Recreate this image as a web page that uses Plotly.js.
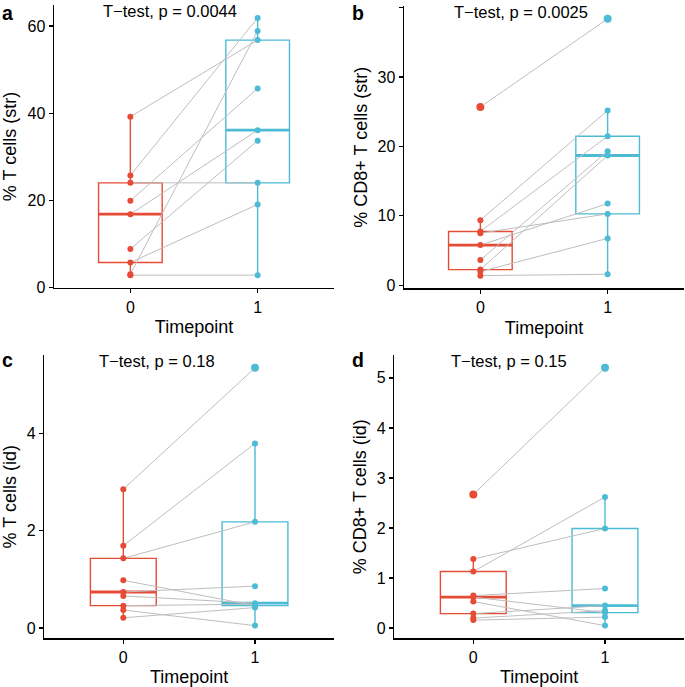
<!DOCTYPE html>
<html><head><meta charset="utf-8">
<script src="https://cdn.plot.ly/plotly-3.0.1.min.js"></script>
<style>html,body{margin:0;padding:0;background:#fff}#chart{width:685px;height:687px}</style>
</head><body><div id="chart"></div>
<script>
// ---------- data ----------
const timepoints = [0, 1];
const timepointLabels = ['0', '1'];
const xTitle = 'Timepoint';
const panelLetters = ['a', 'b', 'c', 'd'];
const yTitles = ['% T cells (str)', '% CD8+ T cells (str)', '% T cells (id)', '% CD8+ T cells (id)'];
const testLabels = ['T\u2212test, p = 0.0044', 'T\u2212test, p = 0.0025', 'T\u2212test, p = 0.18', 'T\u2212test, p = 0.15'];

// paired values per patient (same index = same patient)
const tStrT0 = [39.2, 25.7, 24.0, 19.9, 16.8, 8.8, 5.7, 3.0, 2.8];
const tStrT1 = [56.8, 61.9, 24.0, 45.7, 36.1, 33.7, 19.05, 58.9, 2.8];

const cd8StrT0 = [25.7, 9.37, 7.75, 7.5, 5.78, 3.63, 2.25, 1.96, 1.38];
const cd8StrT1 = [38.4, 25.2, 21.48, 10.28, 11.77, 19.32, 18.7, 6.75, 1.58];

const tIdT0 = [2.85, 1.69, 1.43, 0.98, 0.74, 0.66, 0.46, 0.37, 0.21];
const tIdT1 = [5.34, 3.79, 2.18, 0.46, 0.86, 0.51, 0.49, 0.05, 0.42];

const cd8IdT0 = [2.67, 1.38, 1.13, 0.65, 0.62, 0.53, 0.29, 0.20, 0.16];
const cd8IdT1 = [5.2, 1.99, 2.62, 0.79, 0.31, 0.05, 0.45, 0.35, 0.22];

// ---------- styles ----------
const RED = '#E64B35', BLUE = '#4DBBD5', GREY = '#BEBEBE';
const FONT = 'Liberation Sans, Arial, Helvetica, sans-serif';
const panels = [
  {t0: tStrT0, t1: tStrT1, dx: [54/685, 334/685], dy: [0.5808, 0.9927], dtick: 20, annX: 0.168, letterX: 0, letterY: 1, ystand: 7},
  {t0: cd8StrT0, t1: cd8StrT1, dx: [404/685, 684/685], dy: [0.5801, 0.9913], dtick: 10, annX: 0.1725, letterX: 350/685, letterY: 1, ystand: 5},
  {t0: tIdT0, t1: tIdT1, dx: [44.3/685, 334/685], dy: [0.0706, 0.4833], dtick: 2, annX: 0.183, letterX: 0, letterY: (687 - 347.5) / 687, ystand: 7},
  {t0: cd8IdT0, t1: cd8IdT1, dx: [394.3/685, 684/685], dy: [0.0706, 0.4833], dtick: 1, annX: 0.188, letterX: 350/685, letterY: (687 - 347.5) / 687, ystand: 5}
];

function median(arr) {
  const s = arr.slice().sort((a, b) => a - b);
  const n = s.length;
  return n % 2 ? s[(n - 1) / 2] : (s[n/2 - 1] + s[n/2]) / 2;
}

const data = [];
const layout = {
  width: 685, height: 687,
  margin: {l: 0, r: 0, t: 0, b: 0},
  paper_bgcolor: '#fff', plot_bgcolor: '#fff',
  showlegend: false,
  font: {family: FONT, color: '#000'},
  annotations: []
};

panels.forEach((p, i) => {
  const n = i === 0 ? '' : String(i + 1);
  const xa = 'x' + n, ya = 'y' + n;
  const groups = [p.t0, p.t1];
  const colors = [RED, BLUE];

  // boxes (quartiles + whiskers computed by plotly from the data)
  groups.forEach((vals, g) => {
    data.push({
      type: 'box', x: vals.map(() => timepoints[g]), y: vals,
      xaxis: xa, yaxis: ya, width: 0.5,
      line: {color: colors[g], width: 1.4}, fillcolor: 'rgba(255,255,255,0)',
      boxpoints: 'outliers', pointpos: 0, jitter: 0, whiskerwidth: 0,
      quartilemethod: 'inclusive',
      marker: {color: colors[g], size: 8, line: {width: 0}},
      hoverinfo: 'skip'
    });
  });
  // thick medians
  groups.forEach((vals, g) => {
    const m = median(vals);
    data.push({
      type: 'scatter', mode: 'lines', xaxis: xa, yaxis: ya,
      x: [timepoints[g] - 0.25, timepoints[g] + 0.25], y: [m, m],
      line: {color: colors[g], width: 2.8}, hoverinfo: 'skip'
    });
  });
  // paired lines
  const lx = [], ly = [];
  p.t0.forEach((v, k) => { lx.push(timepoints[0], timepoints[1], null); ly.push(v, p.t1[k], null); });
  data.push({type: 'scatter', mode: 'lines', x: lx, y: ly, xaxis: xa, yaxis: ya,
    line: {color: GREY, width: 1}, hoverinfo: 'skip'});
  // points
  groups.forEach((vals, g) => {
    data.push({type: 'scatter', mode: 'markers', xaxis: xa, yaxis: ya,
      x: vals.map(() => timepoints[g]), y: vals,
      marker: {color: colors[g], size: 6}});
  });

  const all = p.t0.concat(p.t1);
  const lo = Math.min(...all), hi = Math.max(...all), pad = (hi - lo) * 0.05;

  layout['xaxis' + n] = {
    domain: p.dx, anchor: ya, range: [-0.6, 1.6],
    tickvals: timepoints, ticktext: timepointLabels,
    showline: true, linecolor: '#000', linewidth: 1.4,
    ticks: 'outside', ticklen: 4, tickwidth: 1.3, tickcolor: '#000',
    showgrid: false, zeroline: false,
    tickfont: {size: 16, color: '#000', family: FONT},
    title: {text: xTitle, standoff: 6, font: {size: 18, color: '#000', family: FONT}}
  };
  layout['yaxis' + n] = {
    domain: p.dy, anchor: xa, range: [lo - pad, hi + pad], dtick: p.dtick, tick0: 0,
    showline: true, linecolor: '#000', linewidth: 1.4,
    ticks: 'outside', ticklen: 4, tickwidth: 1.3, tickcolor: '#000',
    showgrid: false, zeroline: false,
    tickfont: {size: 16, color: '#000', family: FONT},
    title: {text: yTitles[i], standoff: p.ystand, font: {size: 18, color: '#000', family: FONT}}
  };

  layout.annotations.push({
    text: testLabels[i], xref: xa + ' domain', yref: ya + ' domain',
    x: p.annX, y: 1, xanchor: 'left', yanchor: 'top', yshift: 5, showarrow: false,
    font: {size: 16.5, color: '#000', family: FONT}
  });
  layout.annotations.push({
    text: '<b>' + panelLetters[i] + '</b>', xref: 'paper', yref: 'paper',
    x: p.letterX, y: p.letterY, xanchor: 'left', yanchor: 'top',
    showarrow: false, font: {size: 19.5, color: '#000', family: FONT}
  });
});

Plotly.newPlot('chart', data, layout, {displayModeBar: false, staticPlot: true});
</script></body></html>
